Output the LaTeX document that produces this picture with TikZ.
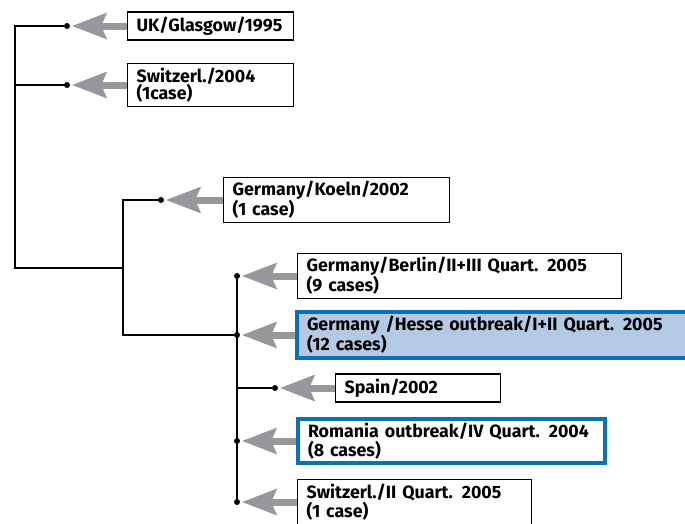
\documentclass[tikz,border=0pt]{standalone}
\usepackage{fontspec}
\setmainfont{Fira Sans}
\usetikzlibrary{arrows.meta}

\definecolor{arrowgray}{HTML}{97989B}
\definecolor{outblue}{HTML}{0A72B4}
\definecolor{outfill}{HTML}{B4CAE4}

\begin{document}
\begin{tikzpicture}[x=1pt,y=-1pt,
    font=\fontsize{17.8}{17.5}\selectfont\bfseries]
\useasboundingbox (0,0) rectangle (685,523);
\clip (0,0) rectangle (685,523);

% strain boxes
\begin{scope}[every node/.style={draw,line width=1.2pt,fill=white,anchor=west,
        align=left,inner xsep=9pt,inner ysep=4pt,minimum height=28pt}]
    \node[text width=148pt] (uk)      at (127,26)  {UK/Glasgow/1995};
    \node[text width=148pt] (sw04)    at (127,85)  {Switzerl./2004\\(1case)};
    \node[text width=208pt] (koeln)   at (223,200) {Germany/Koeln/2002\\(1 case)};
    \node[text width=306pt] (berlin)  at (297,276) {Germany/Berlin/II+III Quart. 2005\\(9 cases)};
    \node[text width=376pt,draw=outblue,fill=outfill,line width=4pt,inner xsep=10pt]
        (hesse)   at (295,335) {Germany /Hesse outbreak/I+II Quart. 2005\\(12 cases)};
    \node[text width=147pt] (spain)   at (335,388) {Spain/2002};
    \node[text width=287pt,draw=outblue,line width=4pt,inner xsep=10pt]
        (romania) at (296,441) {Romania outbreak/IV Quart. 2004\\(8 cases)};
    \node[text width=216pt] (sw05)    at (297,502) {Switzerl./II Quart. 2005\\(1 case)};
\end{scope}

% branch points
\begin{scope}[every node/.style={circle,fill=black,inner sep=0pt,minimum size=6pt}]
    \node (dUK)      at (67,26)   {};
    \node (dSw04)    at (67,85)   {};
    \node (dKoeln)   at (161,200) {};
    \node (dBerlin)  at (237,276) {};
    \node (dHesse)   at (237,335) {};
    \node (dSpain)   at (275,388) {};
    \node (dRomania) at (237,441) {};
    \node (dSw05)    at (237,502) {};
\end{scope}
\coordinate (root) at (15,268);
\coordinate (mid)  at (123,268);

% tree
\begin{scope}[line width=1.2pt]
    \draw (dUK) -| (root) -- (mid);
    \draw (dSw04) -| (root);
    \draw (dKoeln) -| (mid) |- (dHesse);
    \draw (dBerlin) -- (dSw05);
    \draw (dSpain) -- (dSpain -| dHesse);
\end{scope}

% arrows
\begin{scope}[>={Stealth[length=35pt,width=27pt,inset=6pt,line width=0pt]},
            every edge/.style={draw=arrowgray,line width=7pt,shorten >=2pt}]
    \path [->] (uk)      edge (dUK);
    \path [->] (sw04)    edge (dSw04);
    \path [->] (koeln)   edge (dKoeln);
    \path [->] (berlin)  edge (dBerlin);
    \path [->] (hesse)   edge (dHesse);
    \path [->] (spain)   edge (dSpain);
    \path [->] (romania) edge (dRomania);
    \path [->] (sw05)    edge (dSw05);
\end{scope}
\end{tikzpicture}
\end{document}
